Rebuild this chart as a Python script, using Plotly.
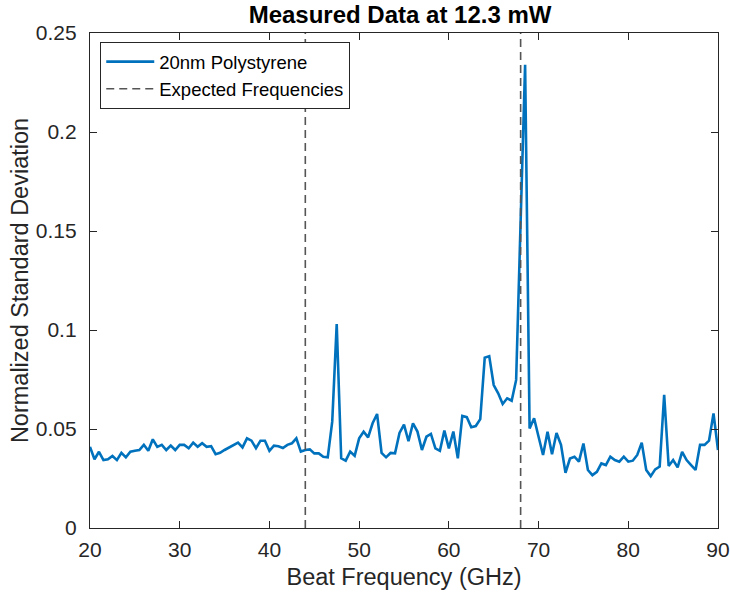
import numpy as np
import plotly.graph_objects as go

# Beat frequency grid (GHz), 0.5 GHz steps from 20 to 90
freq_start, freq_stop, freq_step = 20.0, 90.0, 0.5
frequencies = np.arange(freq_start, freq_stop + freq_step / 2, freq_step)

# Normalized standard deviation
norm_std = [
    0.0410, 0.0347, 0.0385, 0.0343, 0.0347, 0.0364, 0.0343, 0.0380, 0.0357, 0.0385,   # 20 - 24.5
    0.0390, 0.0394, 0.0420, 0.0390, 0.0448, 0.0410, 0.0420, 0.0394, 0.0416, 0.0394,   # 25 - 29.5
    0.0420, 0.0420, 0.0403, 0.0431, 0.0410, 0.0428, 0.0410, 0.0413, 0.0373, 0.0380,   # 30 - 34.5
    0.0394, 0.0407, 0.0420, 0.0431, 0.0407, 0.0453, 0.0441, 0.0403, 0.0441, 0.0441,   # 35 - 39.5
    0.0390, 0.0416, 0.0413, 0.0404, 0.0420, 0.0428, 0.0453, 0.0386, 0.0394, 0.0397,   # 40 - 44.5
    0.0377, 0.0377, 0.0360, 0.0357, 0.0537, 0.1030, 0.0352, 0.0340, 0.0386, 0.0365,   # 45 - 49.5
    0.0453, 0.0486, 0.0458, 0.0529, 0.0576, 0.0379, 0.0357, 0.0379, 0.0377, 0.0480,   # 50 - 54.5
    0.0522, 0.0438, 0.0529, 0.0487, 0.0394, 0.0461, 0.0475, 0.0402, 0.0390, 0.0492,   # 55 - 59.5
    0.0402, 0.0487, 0.0352, 0.0566, 0.0560, 0.0509, 0.0515, 0.0550, 0.0860, 0.0868,   # 60 - 64.5
    0.0722, 0.0680, 0.0626, 0.0655, 0.0643, 0.0748, 0.1550, 0.2340, 0.0503, 0.0554,   # 65 - 69.5
    0.0461, 0.0369, 0.0486, 0.0373, 0.0480, 0.0420, 0.0279, 0.0351, 0.0360, 0.0335,   # 70 - 74.5
    0.0427, 0.0293, 0.0267, 0.0284, 0.0326, 0.0318, 0.0360, 0.0343, 0.0335, 0.0360,   # 75 - 79.5
    0.0335, 0.0340, 0.0369, 0.0431, 0.0293, 0.0262, 0.0296, 0.0310, 0.0672, 0.0313,   # 80 - 84.5
    0.0343, 0.0306, 0.0385, 0.0343, 0.0318, 0.0293, 0.0420, 0.0420, 0.0441, 0.0579,   # 85 - 89.5
    0.0394,                                                                             # 90
]
assert len(norm_std) == len(frequencies)

expected_freqs = [44, 68]
x_range = [20, 90]
y_range = [0, 0.25]
x_ticks = [20, 30, 40, 50, 60, 70, 80, 90]
y_ticks = [0, 0.05, 0.1, 0.15, 0.2, 0.25]
y_tick_labels = ["0", "0.05", "0.1", "0.15", "0.2", "0.25"]

FONT = "Liberation Sans, Arial, Helvetica, sans-serif"
AX = "#262626"

fig = go.Figure()
fig.add_trace(go.Scatter(
    x=frequencies, y=norm_std, mode="lines", name="20nm Polystyrene",
    line=dict(color="#0072BD", width=2.6),
))

vx, vy = [], []
for f in expected_freqs:
    vx += [f, f, None]
    vy += [y_range[0], y_range[1], None]
fig.add_trace(go.Scatter(
    x=vx, y=vy, mode="lines", name="Expected Frequencies",
    line=dict(color="#555555", width=1.6, dash="8px,5px"),
))

axis_common = dict(
    showline=True, linecolor=AX, linewidth=1.4, mirror="ticks",
    ticks="inside", ticklen=7, tickwidth=1.3, tickcolor=AX,
    showgrid=False, zeroline=False, automargin=False,
    tickfont=dict(family=FONT, size=21, color=AX),
)

fig.update_layout(
    width=730, height=592,
    margin=dict(l=90, r=12, t=33, b=64),
    paper_bgcolor="white", plot_bgcolor="white",
    title=dict(text="<b>Measured Data at 12.3 mW</b>", x=0.548, xanchor="center",
               y=0.976, yanchor="middle",
               font=dict(family=FONT, size=24, color="black")),
    xaxis=dict(range=x_range, tickvals=x_ticks, ticklabelstandoff=3,
               title=dict(text="Beat Frequency (GHz)", standoff=8,
                          font=dict(family=FONT, size=23.5, color=AX)),
               **axis_common),
    yaxis=dict(range=y_range, tickvals=y_ticks, ticktext=y_tick_labels, ticklabelstandoff=8,
               title=dict(text="Normalized Standard Deviation", standoff=0,
                          font=dict(family=FONT, size=23.5, color=AX)),
               **axis_common),
    legend=dict(x=0.016, y=0.982, xanchor="left", yanchor="top",
                bgcolor="white", bordercolor=AX, borderwidth=1.2,
                font=dict(family=FONT, size=18.5, color="black"),
                itemwidth=48, tracegroupgap=0),
    showlegend=True,
)

fig.write_html("out.html", config={"displayModeBar": False},
               post_script="document.body.style.margin='0';")
